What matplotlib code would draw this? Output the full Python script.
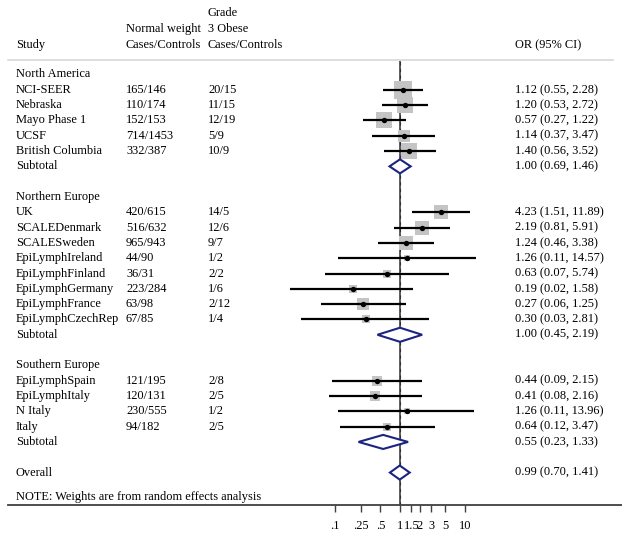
import matplotlib
matplotlib.use("Agg")
import matplotlib.pyplot as plt
import matplotlib.transforms as mtransforms
import numpy as np

plt.rcParams['font.family'] = ['Liberation Serif', 'DejaVu Serif']

# ---- data ----
labels = ["North America", "NCI-SEER", "Nebraska", "Mayo Phase 1", "UCSF", "British Columbia", "Subtotal", "",
          "Northern Europe", "UK", "SCALEDenmark", "SCALESweden", "EpiLymphIreland", "EpiLymphFinland",
          "EpiLymphGermany", "EpiLymphFrance", "EpiLymphCzechRep", "Subtotal", "",
          "Southern Europe", "EpiLymphSpain", "EpiLymphItaly", "N Italy", "Italy", "Subtotal", "",
          "Overall"]
row_type = ["group", "study", "study", "study", "study", "study", "sub", "blank",
            "group", "study", "study", "study", "study", "study", "study", "study", "study", "sub", "blank",
            "group", "study", "study", "study", "study", "sub", "blank",
            "sub"]
normal_cc = ["", "165/146", "110/174", "152/153", "714/1453", "332/387", "", "",
             "", "420/615", "516/632", "965/943", "44/90", "36/31", "223/284", "63/98", "67/85", "", "",
             "", "121/195", "120/131", "230/555", "94/182", "", "", ""]
obese_cc = ["", "20/15", "11/15", "12/19", "5/9", "10/9", "", "",
            "", "14/5", "12/6", "9/7", "1/2", "2/2", "1/6", "2/12", "1/4", "", "",
            "", "2/8", "2/5", "1/2", "2/5", "", "", ""]
odds = [np.nan, 1.12, 1.20, 0.57, 1.14, 1.40, 1.00, np.nan,
        np.nan, 4.23, 2.19, 1.24, 1.26, 0.63, 0.19, 0.27, 0.30, 1.00, np.nan,
        np.nan, 0.44, 0.41, 1.26, 0.64, 0.55, np.nan,
        0.99]
lower = [np.nan, 0.55, 0.53, 0.27, 0.37, 0.56, 0.69, np.nan,
         np.nan, 1.51, 0.81, 0.46, 0.11, 0.07, 0.02, 0.06, 0.03, 0.45, np.nan,
         np.nan, 0.09, 0.08, 0.11, 0.12, 0.23, np.nan,
         0.70]
upper = [np.nan, 2.28, 2.72, 1.22, 3.47, 3.52, 1.46, np.nan,
         np.nan, 11.89, 5.91, 3.38, 14.57, 5.74, 1.58, 1.25, 2.81, 2.19, np.nan,
         np.nan, 2.15, 2.16, 13.96, 3.47, 1.33, np.nan,
         1.41]
weights = [np.nan, 12.1, 9.3, 11.4, 6.8, 9.3, np.nan, np.nan,
           np.nan, 7.6, 7.6, 7.6, 1.7, 2.3, 3.0, 5.4, 3.0, np.nan, np.nan,
           np.nan, 4.7, 4.1, 1.7, 2.3, np.nan, np.nan,
           np.nan]
tick_vals = [0.1, 0.25, 0.5, 1, 1.5, 2, 3, 5, 10]
tick_labels = [".1", ".25", ".5", "1", "1.5", "2", "3", "5", "10"]
note_text = "NOTE: Weights are from random effects analysis"

# ---- layout ----
W, H = 622, 537
fig = plt.figure(figsize=(W / 100, H / 100), dpi=100)
ax_left, ax_right, ax_top, ax_bot = 8, 622, 61, 505
ax = fig.add_axes([ax_left / W, (H - ax_bot) / H, (ax_right - ax_left) / W, (ax_bot - ax_top) / H])
ax.set_xscale('log')
px_per_dec = 65.0
x_one = 400.0
ax.set_xlim(10 ** ((ax_left - x_one) / px_per_dec), 10 ** ((ax_right - x_one) / px_per_dec))
row0, dy = 74.5, 15.31
ax.set_ylim((ax_bot - row0) / dy, (ax_top - row0) / dy)

for s in ['top', 'left', 'right']:
    ax.spines[s].set_visible(False)
ax.spines['bottom'].set_color('#404040')
ax.spines['bottom'].set_linewidth(1.3)
ax.set_yticks([])
ax.set_xticks(tick_vals)
ax.set_xticklabels(tick_labels)
ax.xaxis.set_minor_locator(matplotlib.ticker.NullLocator())
ax.tick_params(axis='x', direction='out', length=5, width=1, color='#404040',
               labelsize=8.9, pad=6, labelcolor='black')

fs = 8.9
tx = mtransforms.blended_transform_factory(fig.transFigure, ax.transData)

def prow(p):
    return (p - row0) / dy

# header
hdr_rows = [prow(13), prow(29), prow(45)]
ax.text(16 / W, hdr_rows[2], "Study", transform=tx, fontsize=fs, va='center', ha='left')
ax.text(126 / W, hdr_rows[1], "Normal weight", transform=tx, fontsize=fs, va='center', ha='left')
ax.text(126 / W, hdr_rows[2], "Cases/Controls", transform=tx, fontsize=fs, va='center', ha='left')
ax.text(208 / W, hdr_rows[0], "Grade", transform=tx, fontsize=fs, va='center', ha='left')
ax.text(208 / W, hdr_rows[1], "3 Obese", transform=tx, fontsize=fs, va='center', ha='left')
ax.text(208 / W, hdr_rows[2], "Cases/Controls", transform=tx, fontsize=fs, va='center', ha='left')
ax.text(515 / W, hdr_rows[2], "OR (95% CI)", transform=tx, fontsize=fs, va='center', ha='left')
ax.plot([8 / W, 613 / W], [prow(60), prow(60)], transform=tx, color='#d8d8d8', lw=1.2, clip_on=False)

# null line and overall line
ax.axvline(1.0, color='#505050', lw=1.3, zorder=1)
ax.axvline(odds[-1], color='#303030', lw=0.8, ls=(0, (3, 3)), zorder=1)

navy = '#1c2380'
k = 16 / np.sqrt(12.1) * 0.72 * 1.08  # points per sqrt(weight)
for i, lab in enumerate(labels):
    y = i
    if lab:
        ax.text(16 / W, y, lab, transform=tx, fontsize=fs, va='center', ha='left')
    if normal_cc[i]:
        ax.text(126 / W, y, normal_cc[i], transform=tx, fontsize=fs, va='center', ha='left')
    if obese_cc[i]:
        ax.text(208 / W, y, obese_cc[i], transform=tx, fontsize=fs, va='center', ha='left')
    if not np.isnan(odds[i]):
        ax.text(515 / W, y, f"{odds[i]:.2f} ({lower[i]:.2f}, {upper[i]:.2f})", transform=tx,
                fontsize=fs, va='center', ha='left')
    t = row_type[i]
    if t == "study":
        side = k * np.sqrt(weights[i])
        ax.scatter([odds[i]], [y], marker='s', s=side ** 2, color='#c4c4c4', lw=0, zorder=2)
        ax.plot([lower[i], upper[i]], [y, y], color='black', lw=1.6, zorder=3, solid_capstyle='butt')
        ax.scatter([odds[i]], [y], marker='o', s=15, color='black', lw=0, zorder=4)
    elif t == "sub":
        h = 0.46
        xs = [lower[i], odds[i], upper[i], odds[i], lower[i]]
        ys = [y, y - h, y, y + h, y]
        ax.fill(xs, ys, facecolor='white', edgecolor=navy, lw=1.5, zorder=3)

ax.text(16 / W, 27.6, note_text, transform=tx, fontsize=fs, va='center', ha='left')

fig.savefig("out.png", dpi=100)
